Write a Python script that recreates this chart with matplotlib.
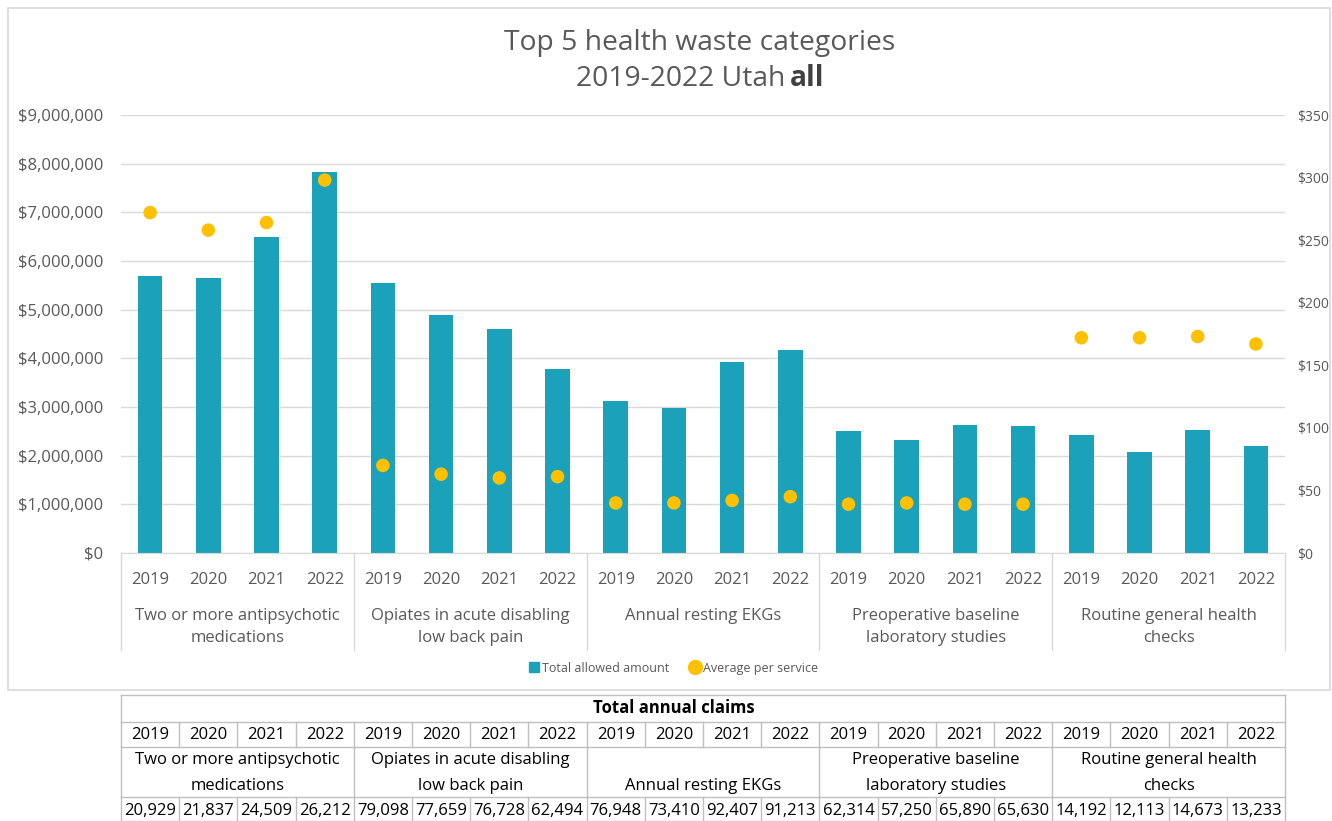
import numpy as np
import matplotlib
matplotlib.use("Agg")
import matplotlib.pyplot as plt
from matplotlib.lines import Line2D
from matplotlib.patches import Rectangle
from matplotlib.ticker import FuncFormatter, MultipleLocator
import matplotlib.transforms as mtransforms

plt.rcParams['font.family'] = ['Open Sans', 'DejaVu Sans']

# data
years = ["2019", "2020", "2021", "2022"]
groups = [
    ["Two or more antipsychotic", "medications"],
    ["Opiates in acute disabling", "low back pain"],
    ["Annual resting EKGs"],
    ["Preoperative baseline", "laboratory studies"],
    ["Routine general health", "checks"],
]
total_allowed = [5.70e6, 5.65e6, 6.49e6, 7.82e6,
                 5.55e6, 4.89e6, 4.60e6, 3.78e6,
                 3.12e6, 2.97e6, 3.93e6, 4.18e6,
                 2.51e6, 2.32e6, 2.63e6, 2.61e6,
                 2.43e6, 2.08e6, 2.52e6, 2.19e6]
avg_per_service = [272, 258, 264, 298,
                   70, 63, 60, 61,
                   40, 40, 42, 45,
                   39, 40, 39, 39,
                   172, 172, 173, 167]
claims = ["20,929", "21,837", "24,509", "26,212",
          "79,098", "77,659", "76,728", "62,494",
          "76,948", "73,410", "92,407", "91,213",
          "62,314", "57,250", "65,890", "65,630",
          "14,192", "12,113", "14,673", "13,233"]

W, H = 1332, 821
BAR = '#1BA1B9'
DOT = '#FFC000'
GRID = '#D9D9D9'
TXT = '#595959'

fig = plt.figure(figsize=(W / 100, H / 100), dpi=100)

# chart border
fig.patches.append(Rectangle((8 / W, 1 - 690 / H), 1322 / W, 682 / H,
                             transform=fig.transFigure, fill=False,
                             edgecolor=GRID, lw=1.2))

ax_l, ax_r = 121, 1285
ax_t, ax_b = 115, 553
ax = fig.add_axes([ax_l / W, 1 - ax_b / H, (ax_r - ax_l) / W, (ax_b - ax_t) / H])
n = len(total_allowed)
x = np.arange(n)
ax.bar(x, total_allowed, width=0.42, color=BAR, zorder=2)
ax.set_xlim(-0.5, n - 0.5)
ax.set_ylim(0, 9e6)
ax.yaxis.set_major_locator(MultipleLocator(1e6))
ax.yaxis.set_major_formatter(FuncFormatter(lambda v, p: f"${v:,.0f}"))
ax.grid(axis='y', color=GRID, lw=1, zorder=0)
ax.set_axisbelow(True)
for s in ['top', 'right', 'left']:
    ax.spines[s].set_visible(False)
ax.spines['bottom'].set_color(GRID)
ax.tick_params(axis='y', length=0, pad=13, labelsize=12, labelcolor=TXT)
ax.set_xticks(x)
ax.set_xticklabels(years * len(groups))
ax.tick_params(axis='x', length=0, pad=13.5, labelsize=12, labelcolor=TXT)

ax2 = ax.twinx()
ax2.scatter(x, avg_per_service, s=95, color=DOT, zorder=3, edgecolors='none')
ax2.set_ylim(0, 350)
ax2.yaxis.set_major_locator(MultipleLocator(50))
ax2.yaxis.set_major_formatter(FuncFormatter(lambda v, p: f"${v:.0f}"))
ax2.tick_params(axis='y', length=0, pad=9, labelsize=10, labelcolor=TXT)
for s in ax2.spines.values():
    s.set_visible(False)

# multi-level category axis
trans = mtransforms.blended_transform_factory(ax.transData, ax.transAxes)
axh = ax_b - ax_t
for g in range(len(groups) + 1):
    xs = g * 4 - 0.5
    ax.plot([xs, xs], [0, -(650 - ax_b) / axh], transform=trans,
            color=GRID, lw=1, clip_on=False)
for g, lines in enumerate(groups):
    cx = g * 4 + 1.5
    for k, line in enumerate(lines):
        ax.text(cx, -(616 + 22 * k - ax_b) / axh, line, transform=trans,
                ha='center', va='center', fontsize=12, color=TXT)

# title
fig.text(700 / W, 1 - 43 / H, "Top 5 health waste categories",
         ha='center', va='center', fontsize=20.3, color=TXT)
fig.text(785 / W, 1 - 79 / H, "2019-2022 Utah", ha='right',
         va='center', fontsize=20.3, color=TXT)
fig.text(790 / W, 1 - 79 / H, "all", ha='left', va='center',
         fontsize=20.3, color='#404040', fontweight='bold')

# legend
handles = [Line2D([], [], marker='s', ls='none', color=BAR, markersize=7),
           Line2D([], [], marker='o', ls='none', color=DOT, markersize=10)]
fig.legend(handles, ["Total allowed amount", "Average per service"],
           loc='center', bbox_to_anchor=(673 / W, 1 - 668 / H), ncol=2,
           frameon=False, fontsize=9, labelcolor=TXT, handletextpad=0.1,
           columnspacing=1.6, handlelength=1.0)

# claims table
tb_t, tb_b = 695, 821
tab = fig.add_axes([ax_l / W, 0, (ax_r - ax_l) / W, (tb_b - tb_t) / H])
tab.set_xlim(-0.5, n - 0.5)
tab.set_ylim(tb_b - tb_t, 0)
tab.axis('off')
LC = '#BFBFBF'
rows = [0, 27, 52, 102, 126]
for r in rows:
    tab.plot([-0.5, n - 0.5], [r, r], color=LC, lw=1, clip_on=False)
for c in range(n + 1):
    xs = c - 0.5
    tab.plot([xs, xs], [27, 52], color=LC, lw=1, clip_on=False)
    tab.plot([xs, xs], [102, 126], color=LC, lw=1, clip_on=False)
    if c % 4 == 0:
        tab.plot([xs, xs], [52, 102], color=LC, lw=1, clip_on=False)
    if c in (0, n):
        tab.plot([xs, xs], [0, 27], color=LC, lw=1, clip_on=False)
tab.text(9.0, 13, "Total annual claims", ha='center', va='center',
         fontsize=12, fontweight='bold', color='black')
for i in range(n):
    tab.text(i, 40, years[i % 4], ha='center', va='center', fontsize=12, color='black')
    tab.text(i, 116, claims[i], ha='center', va='center', fontsize=12, color='black')
for g, lines in enumerate(groups):
    cx = g * 4 + 1.5
    ys = [65, 91] if len(lines) == 2 else [91]
    for line, yy in zip(lines, ys):
        tab.text(cx, yy, line, ha='center', va='center', fontsize=12, color='black')

fig.savefig("out.png", dpi=100)
